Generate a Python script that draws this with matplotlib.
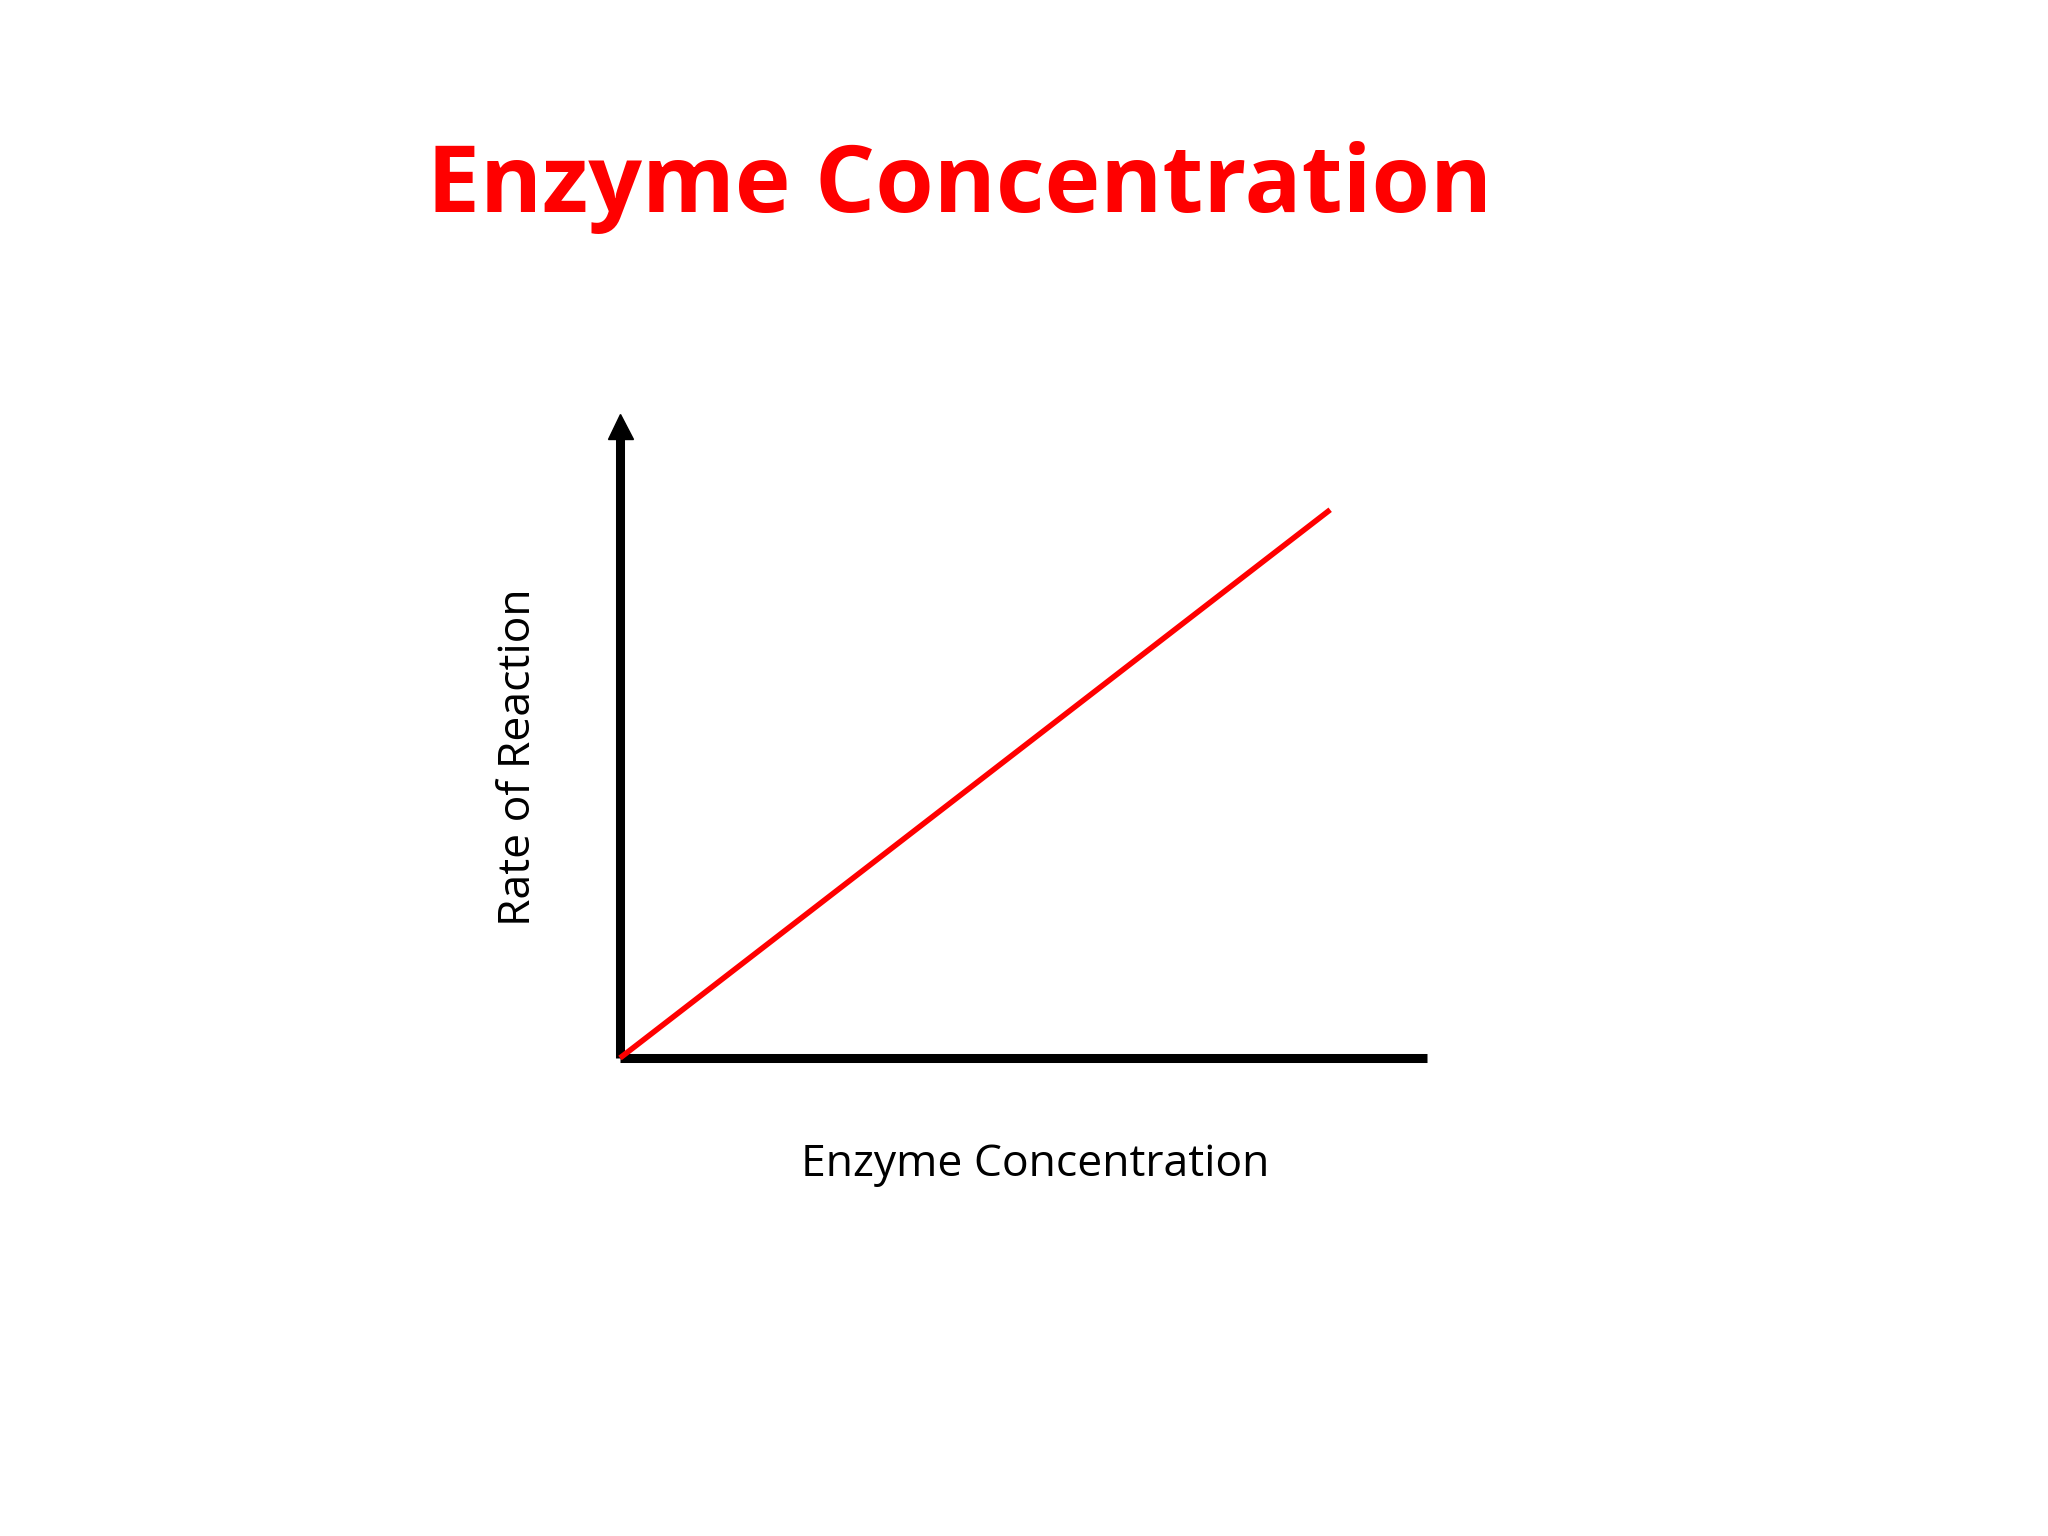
import matplotlib
matplotlib.use("Agg")
import matplotlib.pyplot as plt

# data: rate of reaction rises in proportion to enzyme concentration
concentration = [0, 8.8]
rate = [0, 8.5]

title = "Enzyme Concentration"
xlabel = "Enzyme Concentration"
ylabel = "Rate of Reaction"

plt.rcParams['font.family'] = ['Open Sans', 'DejaVu Sans']

fig = plt.figure(figsize=(20.48, 15.36), dpi=100)
ax = fig.add_axes([620 / 2048, 478 / 1536, 807 / 2048, 645 / 1536])

ax.plot(concentration, rate, color="#ff0000", linewidth=4, clip_on=False,
        solid_capstyle="butt", zorder=3)

ax.set_xlim(0, 10)
ax.set_ylim(0, 10)

# only the two axis lines, thick and black
for s in ["top", "right"]:
    ax.spines[s].set_visible(False)
for s in ["left", "bottom"]:
    ax.spines[s].set_linewidth(6.5)
    ax.spines[s].set_color("black")
    ax.spines[s].set_capstyle("butt")
ax.spines["left"].set_bounds(0, 9.75)
ax.set_xticks([])
ax.set_yticks([])

# arrow head on top of the y axis
ax.plot(0, 0.9806, marker="^", markersize=18, color="black",
        transform=ax.get_xaxis_transform(), clip_on=False)

ax.set_xlabel(xlabel, fontsize=32, va="center")
ax.xaxis.set_label_coords(0.515, -0.166)
ax.set_ylabel(ylabel, fontsize=32, va="center")
ax.yaxis.set_label_coords(-0.126, 0.467)

fig.text(960 / 2048, 1 - 212 / 1536, title, fontsize=68, fontweight="bold",
         color="#ff0000", ha="center", va="baseline")

fig.savefig("out.png", dpi=100, facecolor="white")
